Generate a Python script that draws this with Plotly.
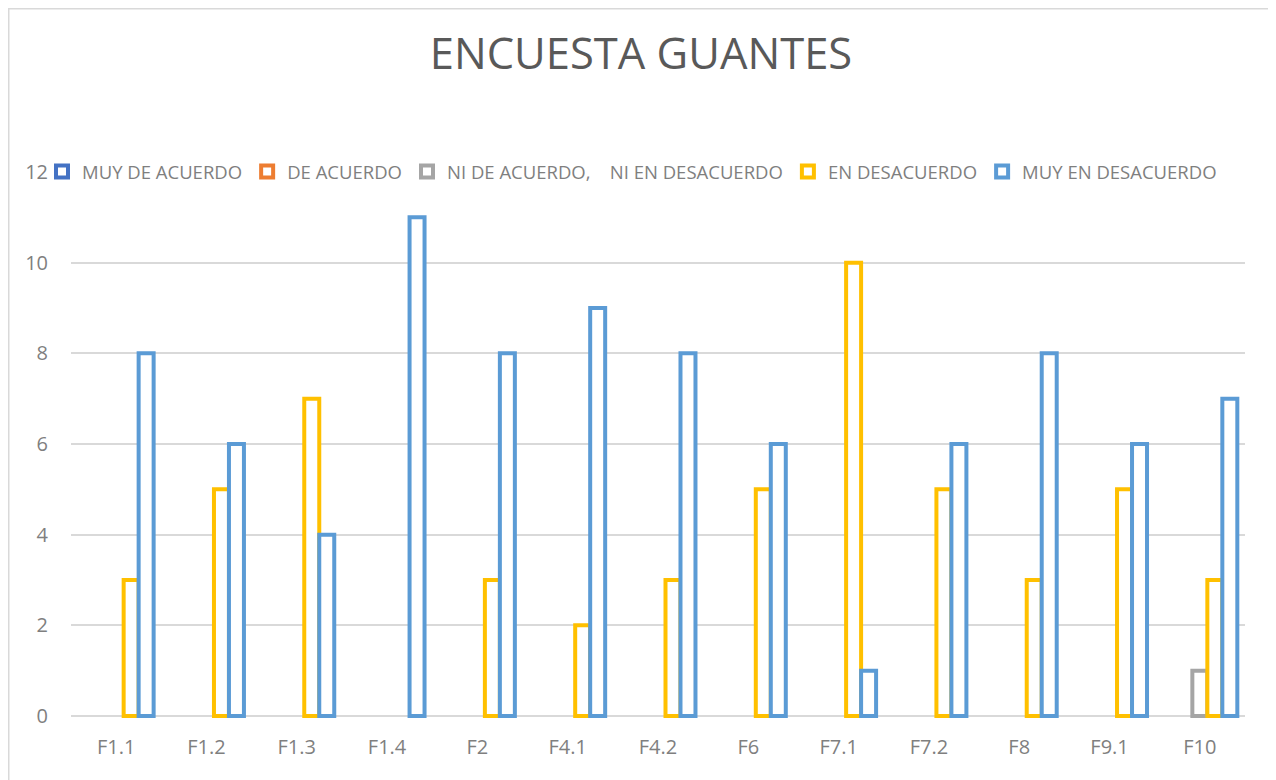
import plotly.graph_objects as go

categories = ["F1.1", "F1.2", "F1.3", "F1.4", "F2", "F4.1", "F4.2", "F6", "F7.1", "F7.2", "F8", "F9.1", "F10"]
series_names = ["MUY DE ACUERDO", "DE ACUERDO", "NI DE ACUERDO,\u00a0\u00a0\u00a0\u00a0NI EN DESACUERDO", "EN DESACUERDO", "MUY EN DESACUERDO"]
muy_de_acuerdo = [0, 0, 0, 0, 0, 0, 0, 0, 0, 0, 0, 0, 0]
de_acuerdo = [0, 0, 0, 0, 0, 0, 0, 0, 0, 0, 0, 0, 0]
ni_ni = [0, 0, 0, 0, 0, 0, 0, 0, 0, 0, 0, 0, 1]
en_desacuerdo = [3, 5, 7, 0, 3, 2, 3, 5, 10, 5, 3, 5, 3]
muy_en_desacuerdo = [8, 6, 4, 11, 8, 9, 8, 6, 1, 6, 8, 6, 7]
colors = ["#4472C4", "#ED7D31", "#A5A5A5", "#FFC000", "#5B9BD5"]
y_ticks = [0, 2, 4, 6, 8, 10, 12]

series_values = [muy_de_acuerdo, de_acuerdo, ni_ni, en_desacuerdo, muy_en_desacuerdo]

fig = go.Figure()
for name, vals, col in zip(series_names, series_values, colors):
    fig.add_trace(go.Bar(
        x=categories, y=[v if v else None for v in vals], name=name,
        marker=dict(color="white", line=dict(color=col, width=4)),
    ))

# page is drawn with an 8px body margin, so figure coords = page coords - 8
W, H = 1276, 780
L, R, T, B = 63, 39, 164, 70
pw, ph = W - L - R, H - T - B


def px_x(x):
    return (x - L) / pw


def px_y(y):
    return (H - B - y) / ph


fig.update_layout(
    width=W, height=H,
    margin=dict(l=L, r=R, t=T, b=B),
    paper_bgcolor="white", plot_bgcolor="white",
    barmode="group", bargap=0.17, bargroupgap=0,
    font=dict(family="Open Sans", color="#7F7F7F", size=18),
    title=dict(text="ENCUESTA GUANTES", x=633 / W, xanchor="center", y=1 - 46 / H, yanchor="middle",
               font=dict(family="Open Sans", size=43.5, color="#595959")),
    legend=dict(orientation="h", x=px_x(34), xanchor="left", y=1.0001, yanchor="middle",
                bgcolor="rgba(0,0,0,0)", font=dict(size=18.5, color="#7F7F7F"),
                itemwidth=30, traceorder="normal", tracegroupgap=0),
    showlegend=True,
    xaxis=dict(showgrid=False, showline=False, ticks="", tickfont=dict(size=20, color="#7F7F7F"),
               ticklabelstandoff=15),
    yaxis=dict(range=[-0.045, 12], tickvals=y_ticks, showgrid=True, gridcolor="#D9D9D9", gridwidth=1.5,
               zeroline=True, zerolinecolor="#D9D9D9", zerolinewidth=1.5, showline=False, ticks="",
               tickfont=dict(size=20, color="#7F7F7F"), ticklabelstandoff=22),
    shapes=[dict(type="rect", xref="paper", yref="paper",
                 x0=px_x(0.75), x1=px_x(1265), y0=px_y(790), y1=px_y(0.75),
                 line=dict(color="#D9D9D9", width=1.5), fillcolor="rgba(0,0,0,0)", layer="below")],
)

fig.write_html("out.html")
